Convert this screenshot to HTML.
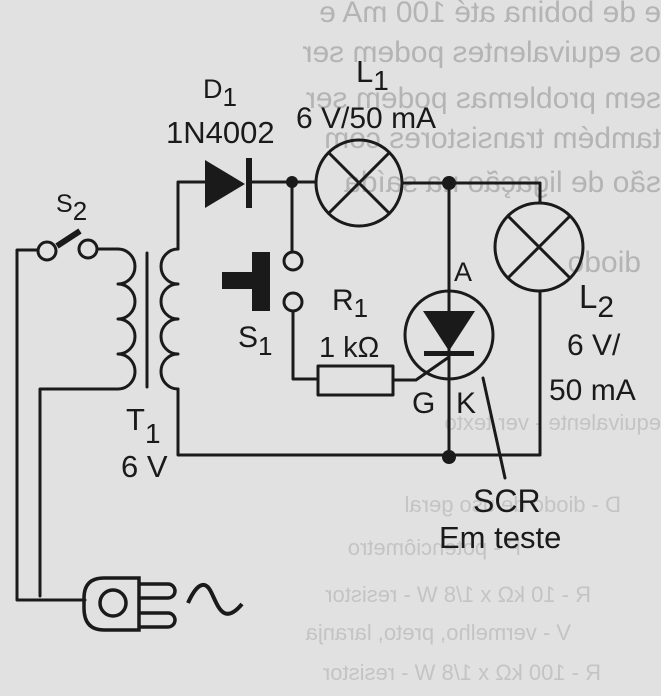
<!DOCTYPE html>
<html><head><meta charset="utf-8"><style>
html,body{margin:0;padding:0;background:#e1e1e1;}
svg{display:block;}
text{font-family:"Liberation Sans",Arial,sans-serif;fill:#1a1a1a;}
.bt{fill:#b4b4b4;font-size:30px;}
.bs{fill:#c4c4c4;font-size:22px;}
</style></head><body>
<svg width="661" height="696" viewBox="0 0 661 696" xmlns="http://www.w3.org/2000/svg">
<rect width="661" height="696" fill="#e1e1e1"/>
<!-- mirrored bleed-through text -->
<g transform="translate(661,0) scale(-1,1)">
<text class="bt" x="0" y="22">e de bobina até 100 mA e</text>
<text class="bt" x="0" y="62">os equivalentes podem ser</text>
<text class="bt" x="0" y="108">sem problemas podem ser</text>
<text class="bt" x="0" y="148">também transistores com</text>
<text class="bt" x="0" y="192">são de ligação na saída</text>
<text class="bt" x="20" y="272">diodo.</text>
<text class="bs" x="0" y="430">equivalente - ver texto</text>
<text class="bs" x="40" y="512">D - diodo de uso geral</text>
<text class="bs" x="140" y="555">P - potenciômetro</text>
<text class="bs" x="70" y="602">R - 10 kΩ x 1/8 W - resistor</text>
<text class="bs" x="90" y="640">V - vermelho, preto, laranja</text>
<text class="bs" x="60" y="680">R - 100 kΩ x 1/8 W - resistor</text>
</g>

<g fill="none" stroke="#1a1a1a" stroke-width="3" stroke-linejoin="round" stroke-linecap="round">
<path d="M38 250 H17 V600 H85"/>
<path d="M118 389 H40 V596"/>
<circle cx="47" cy="251" r="9" fill="#e1e1e1"/>
<circle cx="88" cy="249" r="9" fill="#e1e1e1"/>
<path d="M97 249 H118"/>
<path d="M118 249 a17 17.5 0 0 1 0 35 a17 17.5 0 0 1 0 35 a17 17.5 0 0 1 0 35 a17 17.5 0 0 1 0 35"/>
<path d="M147 253 V387"/>
<path d="M178 249 a17 17.5 0 0 0 0 35 a17 17.5 0 0 0 0 35 a17 17.5 0 0 0 0 35 a17 17.5 0 0 0 0 35"/>
<path d="M178 249 V182 H205"/>
<path d="M249 182 H316"/>
<path d="M178 389 V455 H540 V291"/>
<path d="M292 182 V252"/>
<circle cx="293" cy="261" r="9" fill="#e1e1e1"/>
<circle cx="293" cy="302" r="9" fill="#e1e1e1"/>
<path d="M293 311 V379 H318"/>
<rect x="318" y="366" width="75" height="29"/>
<path d="M393 380 H416 L449 357"/>
<circle cx="359" cy="183" r="43"/>
<path d="M329 153 L389 213 M389 153 L329 213"/>
<path d="M402 183 H540 V203"/>
<circle cx="539" cy="247" r="44"/>
<path d="M508 216 L570 278 M570 216 L508 278"/>
<path d="M449 183 V457"/>
<circle cx="449" cy="335" r="44"/>
<path d="M483 378 L505 478"/>
</g>
<path d="M57 246 L80 231" stroke="#1a1a1a" stroke-width="6"/>
<polygon points="205,160 205,208 245,184" fill="#1a1a1a"/>
<rect x="246" y="158" width="6" height="50" fill="#1a1a1a"/>
<circle cx="292" cy="182" r="6" fill="#1a1a1a"/>
<circle cx="449" cy="183" r="7" fill="#1a1a1a"/>
<circle cx="449" cy="457" r="7" fill="#1a1a1a"/>
<rect x="252" y="252" width="18" height="59" fill="#1a1a1a"/>
<rect x="222" y="272" width="32" height="17" fill="#1a1a1a"/>
<polygon points="423,311 475,311 449,351" fill="#1a1a1a"/>
<rect x="424" y="351" width="50" height="5" fill="#1a1a1a"/>
<g fill="none" stroke="#1a1a1a" stroke-width="3.5">
<path d="M139 578 H104 Q84 578 84 598 V608 Q84 630 104 630 H139 Z"/>
<circle cx="113" cy="603" r="13"/>
<path d="M139 584 H168 a7 7 0 0 1 0 14 H139"/>
<path d="M139 613 H168 a7 7 0 0 1 0 14 H139"/>
<path d="M188 603 C196 585,204 580,210 590 C217 602,222 628,242 604" stroke-width="4"/>
</g>

<!-- labels -->
<text x="203" y="98" font-size="27">D<tspan font-size="26" dy="8">1</tspan></text>
<text x="166" y="143" font-size="31">1N4002</text>
<text x="356" y="82" font-size="31">L<tspan font-size="28" dy="8">1</tspan></text>
<text x="296" y="128" font-size="30">6 V/50 mA</text>
<text x="56" y="212" font-size="25">S<tspan font-size="26" dy="8">2</tspan></text>
<text x="238" y="347" font-size="30">S<tspan font-size="26" dy="8">1</tspan></text>
<text x="332" y="310" font-size="30">R<tspan font-size="26" dy="7">1</tspan></text>
<text x="319" y="357" font-size="29">1 kΩ</text>
<text x="454" y="281" font-size="27">A</text>
<text x="412" y="413" font-size="30">G</text>
<text x="456" y="413" font-size="30">K</text>
<text x="579" y="308" font-size="33">L<tspan font-size="30" dy="9">2</tspan></text>
<text x="567" y="355" font-size="30">6 V/</text>
<text x="549" y="400" font-size="30">50 mA</text>
<text x="126" y="430" font-size="31">T<tspan font-size="28" dy="13">1</tspan></text>
<text x="121" y="477" font-size="31">6 V</text>
<text x="473" y="512" font-size="32">SCR</text>
<text x="439" y="548" font-size="31">Em teste</text>
</svg>
</body></html>
